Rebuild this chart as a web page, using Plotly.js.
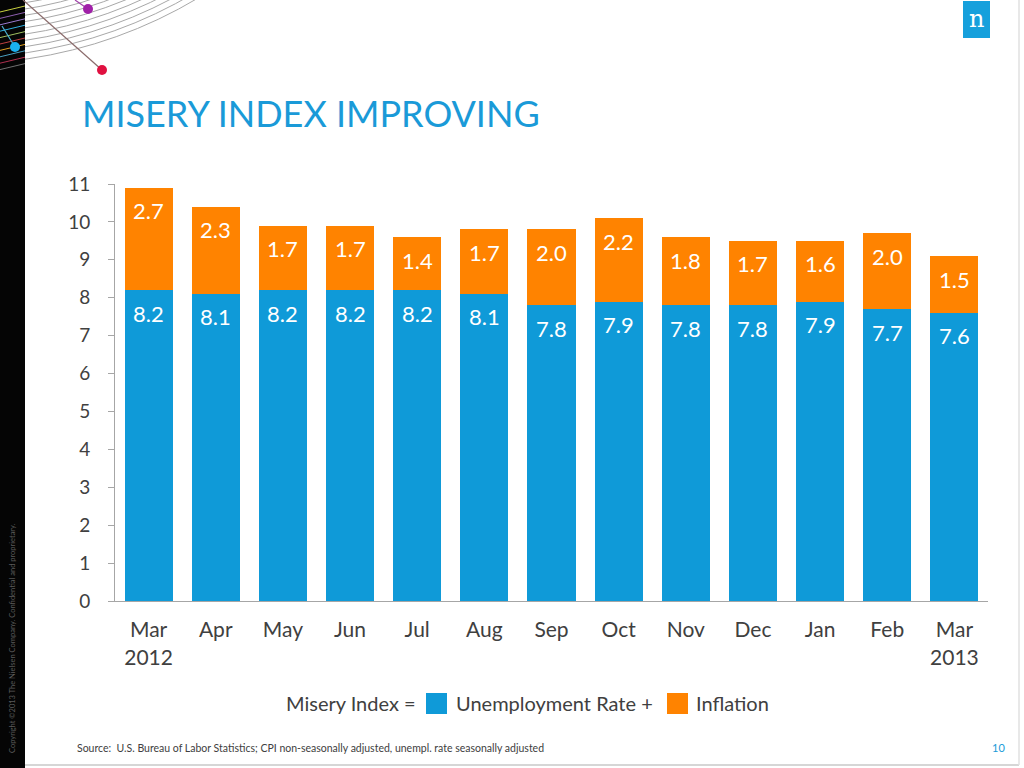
<!DOCTYPE html>
<html><head><meta charset="utf-8">
<script src="https://cdn.plot.ly/plotly-3.0.1.min.js"></script>
<style>html,body{margin:0;padding:0;background:#fff;}#chart{width:1024px;height:768px;}</style>
</head><body><div id="chart"></div>
<script>
var months = ["Mar 2012","Apr","May","Jun","Jul","Aug","Sep","Oct","Nov","Dec","Jan","Feb","Mar 2013"];
var tickLabels = ["Mar<br>2012","Apr","May","Jun","Jul","Aug","Sep","Oct","Nov","Dec","Jan","Feb","Mar<br>2013"];
var unemployment = [8.2,8.1,8.2,8.2,8.2,8.1,7.8,7.9,7.8,7.8,7.9,7.7,7.6];
var inflation = [2.7,2.3,1.7,1.7,1.4,1.7,2.0,2.2,1.8,1.7,1.6,2.0,1.5];

var W=1024,H=768,L=115,R=36,T=184,B=167;
var pw=W-L-R, ph=H-T-B;
function px(x){return (x-L)/pw;}
function py(y){return (H-B-y)/ph;}

var BLUE="#0f9ad8", ORANGE="#ff8300", FONT="Lato, 'Open Sans', sans-serif";

var traces=[
 {type:"bar",x:months,y:unemployment,name:"Unemployment Rate",marker:{color:BLUE},hoverinfo:"y"},
 {type:"bar",x:months,y:inflation,name:"Inflation",marker:{color:ORANGE},hoverinfo:"y"}
];

var shapes=[];
// decorative arcs
var cx=-40, cy=-400;
for(var r=408;r<=466;r+=6.2){
  shapes.push({type:"circle",xref:"paper",yref:"paper",x0:px(cx-r),x1:px(cx+r),y0:py(cy+r),y1:py(cy-r),line:{color:"#a8a8a8",width:1},layer:"below"});
}
// left black strip
shapes.push({type:"rect",xref:"paper",yref:"paper",x0:px(0),x1:px(25),y0:py(768),y1:py(0),fillcolor:"#050505",line:{width:0},layer:"below"});
// coloured arc stubs on strip
var stubCols=["#c8d040","#8e5fb0","#9a7ad0","#2fb0e0","#a0c060","#c04040","#e0a020","#4aa0c0","#b03050","#707070"];
for(var i=0;i<stubCols.length;i++){
  var yy=6+i*6.4;
  shapes.push({type:"line",xref:"paper",yref:"paper",x0:px(0),x1:px(25),y0:py(yy+6),y1:py(yy),line:{color:stubCols[i],width:1}});
}
// straight lines to dots
shapes.push({type:"line",xref:"paper",yref:"paper",x0:px(23),y0:py(0),x1:px(102),y1:py(70),line:{color:"#8a6a6a",width:1.2}});
shapes.push({type:"line",xref:"paper",yref:"paper",x0:px(75),y0:py(0),x1:px(88),y1:py(9),line:{color:"#a040a8",width:1.2}});
shapes.push({type:"line",xref:"paper",yref:"paper",x0:px(2),y0:py(26),x1:px(15),y1:py(47),line:{color:"#4ab0d0",width:1.2}});
function dot(x,y,rr,c){shapes.push({type:"circle",xref:"paper",yref:"paper",x0:px(x-rr),x1:px(x+rr),y0:py(y+rr),y1:py(y-rr),fillcolor:c,line:{width:0}});}
dot(88,9,5,"#a020a8"); dot(15,47,5,"#1ab0ee"); dot(102,70,5,"#e01040");
// logo
shapes.push({type:"rect",xref:"paper",yref:"paper",x0:px(963),x1:px(990),y0:py(38),y1:py(1),fillcolor:"#16a0dc",line:{width:0}});
// legend squares
shapes.push({type:"rect",xref:"paper",yref:"paper",x0:px(426),x1:px(447),y0:py(714),y1:py(693),fillcolor:BLUE,line:{width:0}});
shapes.push({type:"rect",xref:"paper",yref:"paper",x0:px(667),x1:px(688),y0:py(714),y1:py(693),fillcolor:ORANGE,line:{width:0}});
// bottom and right frame lines
shapes.push({type:"line",xref:"paper",yref:"paper",x0:px(25),x1:px(1019),y0:py(765),y1:py(765),line:{color:"#c8c8c8",width:1.5}});
shapes.push({type:"line",xref:"paper",yref:"paper",x0:px(1019),x1:px(1019),y0:py(0),y1:py(765),line:{color:"#e0e0e0",width:1.5}});

var ann=[
 {text:"MISERY INDEX IMPROVING",xref:"paper",yref:"paper",x:px(80),y:py(113),xanchor:"left",yanchor:"middle",showarrow:false,font:{family:FONT,size:36,color:"#1a9ad8"}},
 {text:"n",xref:"paper",yref:"paper",x:px(976.5),y:py(19),xanchor:"center",yanchor:"middle",showarrow:false,font:{family:"'DejaVu Serif', serif",size:24,color:"#fff"}},
 {text:"Misery Index =",xref:"paper",yref:"paper",x:px(418),y:py(703),xanchor:"right",yanchor:"middle",showarrow:false,font:{family:FONT,size:20,color:"#404040"}},
 {text:"Unemployment Rate +",xref:"paper",yref:"paper",x:px(454),y:py(703),xanchor:"left",yanchor:"middle",showarrow:false,font:{family:FONT,size:20,color:"#404040"}},
 {text:"Inflation",xref:"paper",yref:"paper",x:px(694),y:py(703),xanchor:"left",yanchor:"middle",showarrow:false,font:{family:FONT,size:20,color:"#404040"}},
 {text:"Source:  U.S. Bureau of Labor Statistics; CPI non-seasonally adjusted, unempl. rate seasonally adjusted",xref:"paper",yref:"paper",x:px(75),y:py(748),xanchor:"left",yanchor:"middle",showarrow:false,font:{family:FONT,size:10.5,color:"#404040"}},
 {text:"10",xref:"paper",yref:"paper",x:px(1007),y:py(747),xanchor:"right",yanchor:"middle",showarrow:false,font:{family:FONT,size:11,color:"#1a9ad8"}},
 {text:"Copyright ©2013 The Nielsen Company. Confidential and proprietary.",xref:"paper",yref:"paper",x:px(12),y:py(638),xanchor:"center",yanchor:"middle",textangle:-90,showarrow:false,font:{family:FONT,size:7.5,color:"#5a5a5a"}}
];
// data labels, placed from the data through the axes
for(var k=0;k<months.length;k++){
  ann.push({xref:"x",yref:"y",x:months[k],y:unemployment[k],text:unemployment[k].toFixed(1),showarrow:false,yanchor:"middle",yshift:-23,font:{family:FONT,size:22,color:"#fff"}});
  ann.push({xref:"x",yref:"y",x:months[k],y:unemployment[k]+inflation[k],text:inflation[k].toFixed(1),showarrow:false,yanchor:"middle",yshift:-23,font:{family:FONT,size:22,color:"#fff"}});
}

var layout={
 width:W,height:H,margin:{l:L,r:R,t:T,b:B,pad:0},
 paper_bgcolor:"#fff",plot_bgcolor:"#fff",
 barmode:"stack",bargap:0.285,showlegend:false,
 font:{family:FONT,color:"#404040"},
 xaxis:{type:"category",tickmode:"array",tickvals:months,ticktext:tickLabels,
  tickfont:{size:21,color:"#404040",family:FONT},showline:true,linecolor:"#a6a6a6",linewidth:1,ticks:"",showgrid:false,fixedrange:true,ticklabelstandoff:10},
 yaxis:{range:[0,11],dtick:1,tick0:0,showgrid:false,zeroline:false,showline:true,linecolor:"#a6a6a6",linewidth:1,
  ticks:"outside",ticklen:6,tickcolor:"#a6a6a6",tickfont:{size:19,color:"#404040",family:FONT},ticklabelstandoff:14},
 shapes:shapes,annotations:ann
};
Plotly.newPlot("chart",traces,layout,{displayModeBar:false,staticPlot:true});
</script></body></html>
